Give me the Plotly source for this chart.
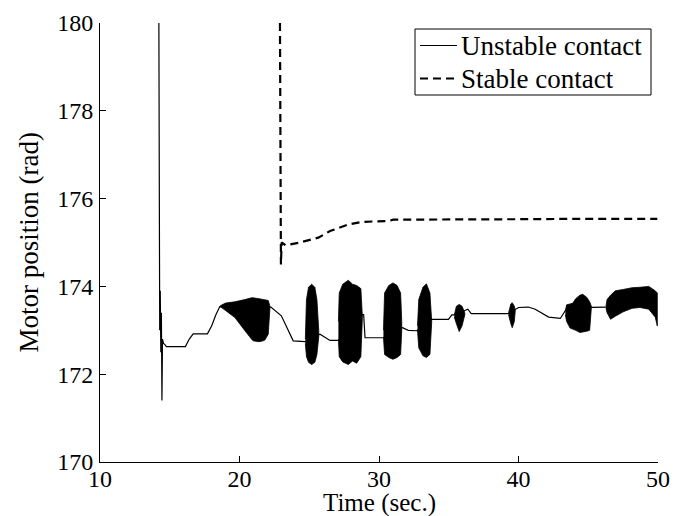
import plotly.graph_objects as go

# ---- Unstable contact: base trace (time, position) ----
base_t = [14.22, 14.24, 14.28, 14.32, 14.36, 14.40, 14.44, 14.48, 14.55, 14.64, 14.76,
          16.12, 16.40, 16.68, 17.70, 18.00, 18.30, 18.59,
          22.18, 22.25, 23.00, 23.85, 24.69,
          25.68, 25.77, 26.49, 27.09,
          28.81, 28.90, 29.00, 30.32,
          31.63, 31.68, 32.10, 32.70,
          33.78, 33.83, 34.98, 35.22, 35.40,
          36.15, 36.37, 36.61, 39.29,
          39.77, 39.81, 40.00, 40.70, 41.20, 41.68, 42.16, 43.00, 43.24, 43.36,
          45.22, 45.27, 46.23, 46.27]
base_v = [180.0, 174.2, 173.0, 173.9, 172.5, 173.4, 171.4, 172.8, 172.7, 172.68, 172.63,
          172.63, 172.80, 172.92, 172.92, 173.10, 173.35, 173.54,
          173.52, 173.53, 173.33, 172.76, 172.74,
          172.90, 172.91, 172.77, 172.77,
          173.36, 173.36, 172.83, 172.83,
          173.06, 173.06, 173.00, 172.99,
          173.25, 173.25, 173.25, 173.35, 173.35,
          173.45, 173.48, 173.38, 173.38,
          173.48, 173.48, 173.52, 173.53, 173.48, 173.38, 173.30, 173.27, 173.40, 173.45,
          173.52, 173.52, 173.53, 173.53]

# ---- Oscillation bursts: envelope (time, upper, lower) ----
b1_t = [18.62, 19.00, 19.67, 20.00, 20.39, 20.86, 20.98, 21.40, 21.70, 21.82, 22.06, 22.18]
b1_u = [173.56, 173.62, 173.65, 173.68, 173.70, 173.74, 173.74, 173.72, 173.70, 173.70, 173.68, 173.55]
b1_l = [173.54, 173.45, 173.29, 173.15, 172.99, 172.80, 172.76, 172.74, 172.76, 172.78, 172.91, 173.50]

b2_t = [24.72, 24.80, 24.95, 25.17, 25.40, 25.55, 25.68]
b2_u = [172.80, 173.70, 173.98, 174.05, 173.98, 173.70, 173.00]
b2_l = [172.70, 172.40, 172.27, 172.22, 172.27, 172.45, 172.85]

b3_t = [27.09, 27.15, 27.40, 27.80, 28.10, 28.40, 28.70, 28.81]
b3_u = [173.20, 173.85, 174.05, 174.14, 174.05, 174.02, 173.95, 173.40]
b3_l = [172.80, 172.40, 172.28, 172.22, 172.30, 172.25, 172.40, 173.30]

b4_t = [30.32, 30.40, 30.70, 31.00, 31.30, 31.55, 31.63]
b4_u = [173.00, 173.85, 174.02, 174.08, 174.02, 173.85, 173.20]
b4_l = [172.85, 172.45, 172.38, 172.34, 172.38, 172.45, 173.00]

b5_t = [32.76, 32.85, 33.15, 33.40, 33.65, 33.78]
b5_u = [173.10, 173.70, 173.98, 174.06, 173.85, 173.30]
b5_l = [173.00, 172.60, 172.42, 172.38, 172.45, 173.20]

b6_t = [35.40, 35.55, 35.75, 35.95, 36.15]
b6_u = [173.35, 173.55, 173.59, 173.55, 173.40]
b6_l = [173.30, 173.15, 172.97, 173.10, 173.35]

b7_t = [39.29, 39.45, 39.55, 39.70, 39.77]
b7_u = [173.40, 173.60, 173.63, 173.55, 173.45]
b7_l = [173.35, 173.15, 173.06, 173.20, 173.45]

b8_t = [43.36, 43.45, 43.70, 43.90, 44.10, 44.40, 44.60, 44.90, 45.10, 45.22]
b8_u = [173.45, 173.58, 173.60, 173.62, 173.72, 173.80, 173.82, 173.75, 173.65, 173.55]
b8_l = [173.35, 173.20, 173.05, 173.02, 173.00, 172.95, 172.97, 172.98, 173.00, 173.50]

b9_t = [46.27, 46.35, 46.60, 46.94, 47.50, 48.14, 48.70, 49.34, 49.80, 49.95]
b9_u = [173.55, 173.70, 173.80, 173.90, 173.93, 173.97, 173.98, 174.00, 173.90, 173.85]
b9_l = [173.50, 173.40, 173.25, 173.32, 173.42, 173.50, 173.52, 173.48, 173.30, 173.10]

bursts = [(b1_t, b1_u, b1_l), (b2_t, b2_u, b2_l), (b3_t, b3_u, b3_l),
          (b4_t, b4_u, b4_l), (b5_t, b5_u, b5_l), (b6_t, b6_u, b6_l),
          (b7_t, b7_u, b7_l), (b8_t, b8_u, b8_l), (b9_t, b9_u, b9_l)]

# ---- Stable contact ----
stable_t = [22.90, 22.93, 22.97, 23.02, 23.30, 24.21, 25.65, 26.49, 26.85, 27.80, 28.76,
            30.67, 31.03, 33.50, 40.00, 45.00, 49.95]
stable_v = [180.0, 175.2, 174.5, 175.0, 174.94, 174.99, 175.11, 175.26, 175.30, 175.41, 175.47,
            175.49, 175.52, 175.52, 175.53, 175.54, 175.54]

series_names = ["Unstable contact", "Stable contact"]

FONT = "Liberation Serif"
TICK_SIZE = 24
TEXT_SIZE = 27

W, H = 692, 516
ML, MR, MT, MB = 92, 42, 15, 62
PW, PH = W - ML - MR, H - MT - MB


def px_x(px):
    return (px - ML) / PW


def px_y(py):
    return (H - MB - py) / PH


fig = go.Figure()
for bt, bu, bl in bursts:
    fig.add_trace(go.Scatter(
        x=bt + bt[::-1], y=bu + bl[::-1], mode="lines", fill="toself",
        fillcolor="black", line=dict(color="black", width=0.8),
        showlegend=False, hoverinfo="skip"))

solid_style = dict(color="black", width=1.2)
dash_style = dict(color="black", width=2.2, dash="8px,5px")

fig.add_trace(go.Scatter(x=base_t, y=base_v, mode="lines", line=solid_style,
                         name=series_names[0], showlegend=False))
fig.add_trace(go.Scatter(x=stable_t, y=stable_v, mode="lines", line=dash_style,
                         name=series_names[1], showlegend=False))

# ---- legend box (drawn as layout decoration) ----
leg_left, leg_right, leg_top, leg_bot = 407, 643, 21, 87
row_y = [37.5, 70.5]
shapes = [dict(type="rect", xref="paper", yref="paper",
               x0=px_x(leg_left), x1=px_x(leg_right), y0=px_y(leg_bot), y1=px_y(leg_top),
               line=dict(color="black", width=1), fillcolor="white", layer="above")]
for ry, st in zip(row_y, [solid_style, dash_style]):
    shapes.append(dict(type="line", xref="paper", yref="paper",
                       x0=px_x(412), x1=px_x(449), y0=px_y(ry), y1=px_y(ry),
                       line=st, layer="above"))

annotations = []
for ry, nm in zip(row_y, series_names):
    annotations.append(dict(text=nm, xref="paper", yref="paper", x=px_x(451), y=px_y(ry),
                            xanchor="left", yanchor="middle", showarrow=False,
                            font=dict(family=FONT, size=TEXT_SIZE, color="black")))
annotations += [
    dict(text="Time (sec.)", xref="paper", yref="paper", x=0.5, y=px_y(495),
         xanchor="center", yanchor="middle", showarrow=False,
         font=dict(family=FONT, size=25, color="black")),
    dict(text="Motor position (rad)", xref="paper", yref="paper", x=px_x(20), y=0.5,
         xanchor="center", yanchor="middle", textangle=-90, showarrow=False,
         font=dict(family=FONT, size=TEXT_SIZE, color="black")),
]

fig.update_layout(
    width=W, height=H,
    margin=dict(l=ML, r=MR, t=MT, b=MB, autoexpand=False),
    paper_bgcolor="white", plot_bgcolor="white",
    font=dict(family=FONT, size=TICK_SIZE, color="black"),
    showlegend=False,
    xaxis=dict(range=[10, 50], dtick=10, tick0=10, showgrid=False, zeroline=False,
               showline=True, linecolor="black", linewidth=1,
               ticks="inside", ticklen=6, tickcolor="black",
               ticklabelstandoff=-5, automargin=False),
    yaxis=dict(range=[170, 180], dtick=2, tick0=170, showgrid=False, zeroline=False,
               showline=True, linecolor="black", linewidth=1,
               ticks="inside", ticklen=6, tickcolor="black",
               ticklabelstandoff=1, automargin=False),
    shapes=shapes,
    annotations=annotations,
)

fig.write_html("out.html")
